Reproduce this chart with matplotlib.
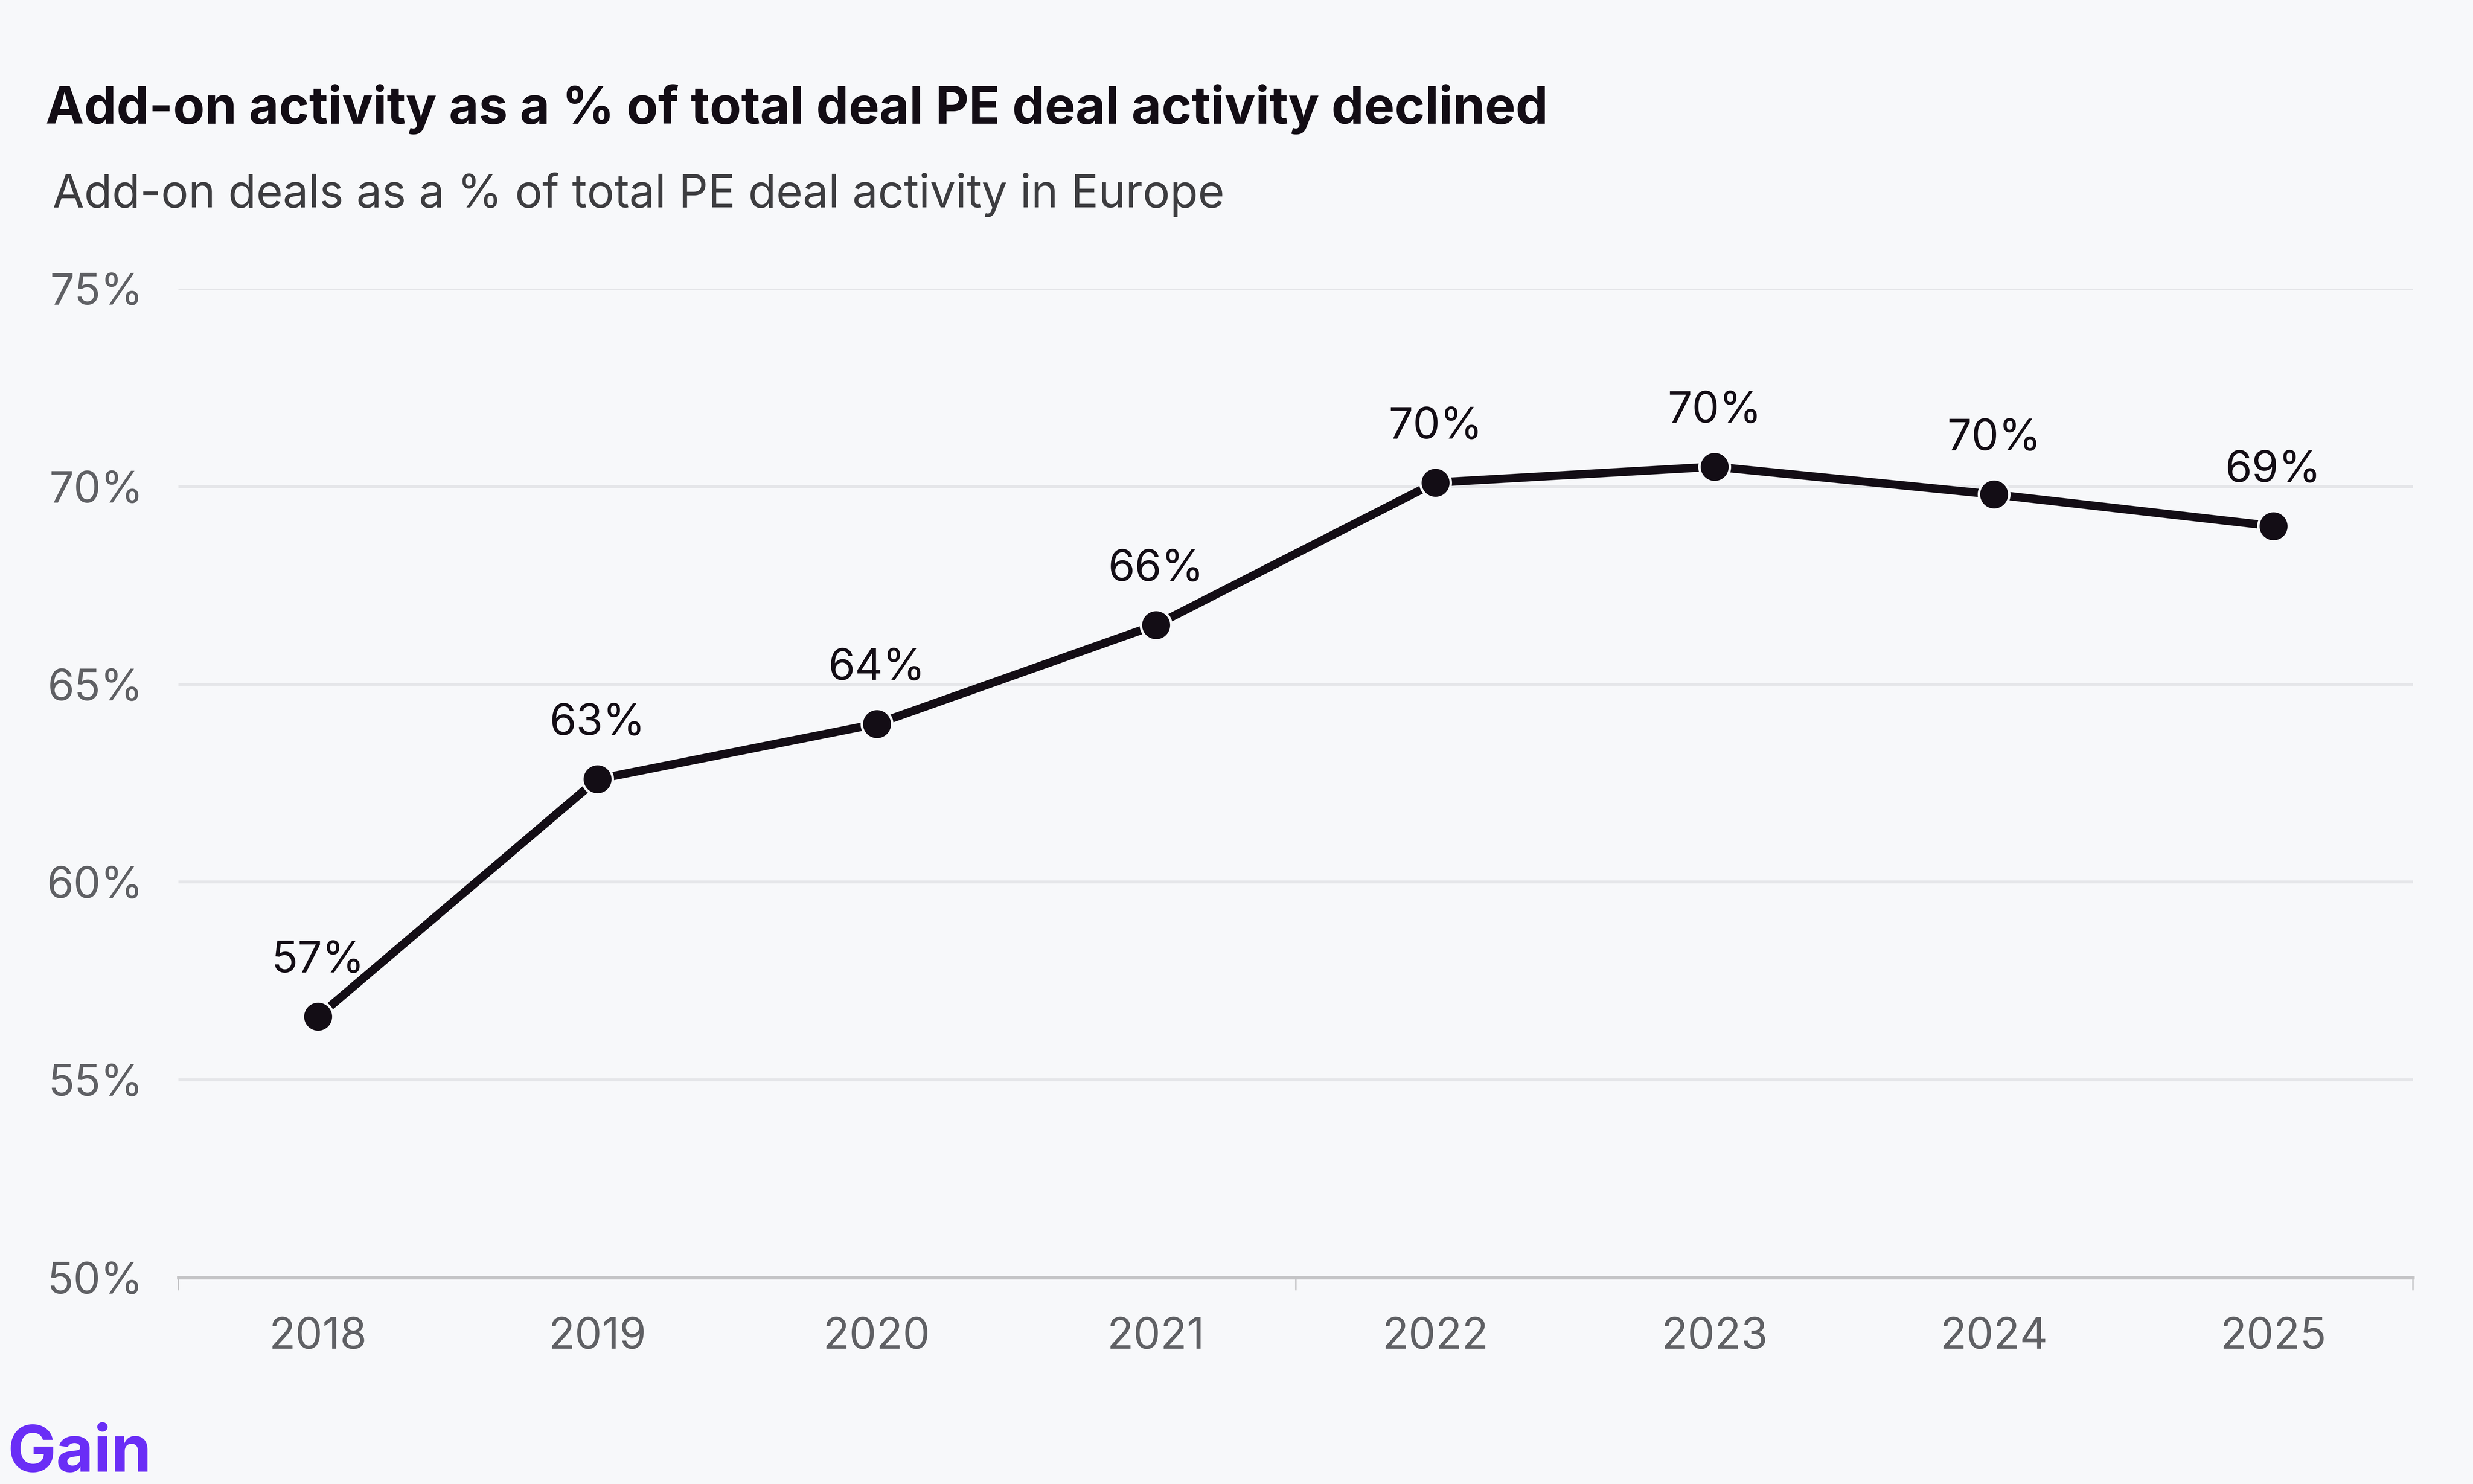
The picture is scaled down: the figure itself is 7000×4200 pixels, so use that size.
import matplotlib
matplotlib.use("Agg")
import matplotlib.pyplot as plt
from matplotlib.ticker import FixedLocator

plt.rcParams['font.family'] = ['Inter', 'DejaVu Sans']

# data
years = ['2018', '2019', '2020', '2021', '2022', '2023', '2024', '2025']
addon_share = [56.6, 62.6, 64.0, 66.5, 70.1, 70.5, 69.8, 69.0]
point_labels = ['57%', '63%', '64%', '66%', '70%', '70%', '70%', '69%']
y_ticks = [50, 55, 60, 65, 70, 75]

bg = '#f7f8fa'
ink = '#130d15'
tick_grey = '#5f6064'

W, H = 7000, 4200
fig = plt.figure(figsize=(70, 42), dpi=100, facecolor=bg)

# axes placed in pixel terms
left, right, top, bottom = 505, 6830, 817, 3616
ax = fig.add_axes([left / W, 1 - bottom / H, (right - left) / W, (bottom - top) / H])
ax.set_facecolor(bg)

x = list(range(len(years)))
ax.plot(x, addon_share, color=ink, linewidth=17, solid_joinstyle='round',
        marker='o', markersize=62, markerfacecolor=ink,
        markeredgecolor=bg, markeredgewidth=5, zorder=3)

for xi, v, lab in zip(x, addon_share, point_labels):
    ax.annotate(lab, (xi, v), xytext=(0, 90), textcoords='offset points',
                ha='center', va='baseline', fontsize=88, color=ink,
                annotation_clip=False, zorder=4)

ax.set_xlim(-0.5, len(years) - 0.5)
ax.set_ylim(50, 75)
ax.set_yticks(y_ticks)
ax.set_yticklabels([f'{t}%' for t in y_ticks])
ax.set_xticks(x)
ax.set_xticklabels(years)
ax.xaxis.set_minor_locator(FixedLocator([-0.5, 3.5, len(years) - 0.5]))

ax.grid(axis='y', color='#e5e6e9', linewidth=6, zorder=0)
ax.set_axisbelow(True)

for s in ['top', 'right', 'left']:
    ax.spines[s].set_visible(False)
ax.spines['bottom'].set_color('#c4c4c6')
ax.spines['bottom'].set_linewidth(6.5)
ax.spines['bottom'].set_zorder(1)

ax.tick_params(axis='y', length=0, pad=72, labelsize=88, labelcolor=tick_grey)
ax.tick_params(axis='x', which='major', length=0, pad=80, labelsize=88, labelcolor=tick_grey)
ax.tick_params(axis='x', which='minor', length=26, width=3, color='#c4c4c6')

# titles
fig.text(129 / W, 1 - 350 / H, 'Add-on activity as a % of total deal PE deal activity declined',
         fontsize=105, fontweight='bold', color=ink, ha='left', va='baseline')
fig.text(149 / W, 1 - 587 / H, 'Add-on deals as a % of total PE deal activity in Europe',
         fontsize=93, color='#3d3d40', ha='left', va='baseline')

# logo
fig.text(22 / W, 1 - 4165 / H, 'Gain', fontsize=132, fontweight='bold',
         color='#6a2ef6', ha='left', va='baseline')

fig.savefig('out.png', dpi=100, facecolor=bg)
